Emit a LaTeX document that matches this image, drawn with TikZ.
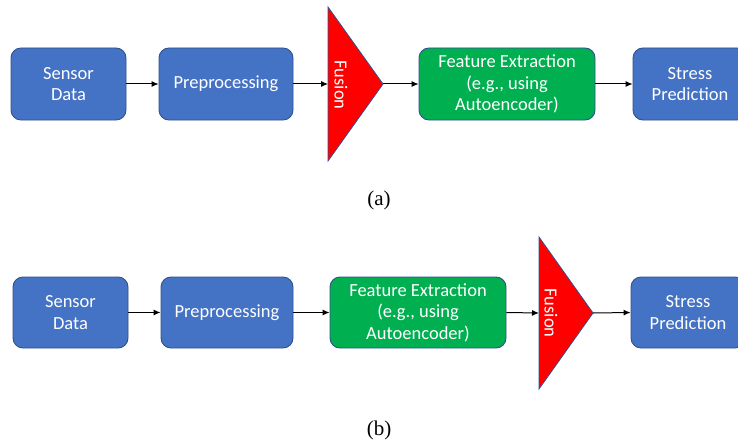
\documentclass[tikz,border=0pt]{standalone}
\usepackage{fontspec}
\setmainfont{Carlito}
\newfontfamily\capfont{Liberation Serif}
\usetikzlibrary{arrows.meta}
\definecolor{boxblue}{HTML}{4472C4}
\definecolor{edgeblue}{HTML}{2F528F}
\definecolor{boxgreen}{HTML}{00B050}
\definecolor{fusred}{HTML}{FF0000}
\tikzset{
  blk/.style={draw=edgeblue, line width=0.9pt, rounded corners=10pt, text=white,
    minimum height=72pt, inner sep=2pt, align=center,
    font=\fontsize{18.5}{21.5}\selectfont},
  bluebox/.style={blk, fill=boxblue},
  greenbox/.style={blk, fill=boxgreen},
  fusionshape/.style={draw=edgeblue, line width=0.8pt, fill=fusred},
  fusiontext/.style={text=white, rotate=-90, inner sep=0pt, font=\fontsize{18.5}{21.5}\selectfont},
  conn/.style={line width=1pt, -{Latex[length=7pt,width=6pt]}},
  captext/.style={font=\capfont\fontsize{21}{24}\selectfont}
}
\begin{document}
\begin{tikzpicture}[x=1pt,y=-1pt]
\clip (0,0) rectangle (738,441);
\fill[white] (0,0) rectangle (738,441);
% ---- row (a)
\node[bluebox, minimum width=115pt] (sa) at (68.5,84) {Sensor\\Data};
\node[bluebox, minimum width=134pt] (pa) at (226,84) {Preprocessing};
\draw[fusionshape] (328,7) -- (383,84) -- (328,161) -- cycle;
\coordinate (fain) at (328,84);
\coordinate (faout) at (383,84);
\node[fusiontext] (fta) at (341,85) {Fusion};
\node[greenbox, minimum width=176pt] (fea) at (507,84) {Feature Extraction\\(e.g., using\\Autoencoder)};
\node[bluebox, minimum width=114pt] (spa) at (690,84) {Stress\\Prediction};
\draw[conn] (sa.east) -- (pa.west);
\draw[conn] (pa.east) -- (fain);
\draw[conn] (faout) -- (fea.west);
\draw[conn] (fea.east) -- (spa.west);
\node[captext] (capa) at (379,200) {(a)};
% ---- row (b)
\node[bluebox, minimum width=115pt, minimum height=71pt] (sb) at (70.5,312.5) {Sensor\\Data};
\node[bluebox, minimum width=132pt, minimum height=71pt] (pb) at (227,312.5) {Preprocessing};
\node[greenbox, minimum width=176pt, minimum height=71pt] (feb) at (418,312.5) {Feature Extraction\\(e.g., using\\Autoencoder)};
\draw[fusionshape] (539,237) -- (593,313) -- (539,389) -- cycle;
\coordinate (fbin) at (539,313);
\coordinate (fbout) at (593,313);
\node[fusiontext] (ftb) at (551,313) {Fusion};
\node[bluebox, minimum width=114pt, minimum height=71pt] (spb) at (688,312.5) {Stress\\Prediction};
\draw[conn] (sb.east) -- (pb.west);
\draw[conn] (pb.east) -- (feb.west);
\draw[conn] (feb.east) -- (fbin);
\draw[conn] (fbout) -- (spb.west);
\node[captext] (capb) at (379,430) {(b)};
\end{tikzpicture}
\end{document}
